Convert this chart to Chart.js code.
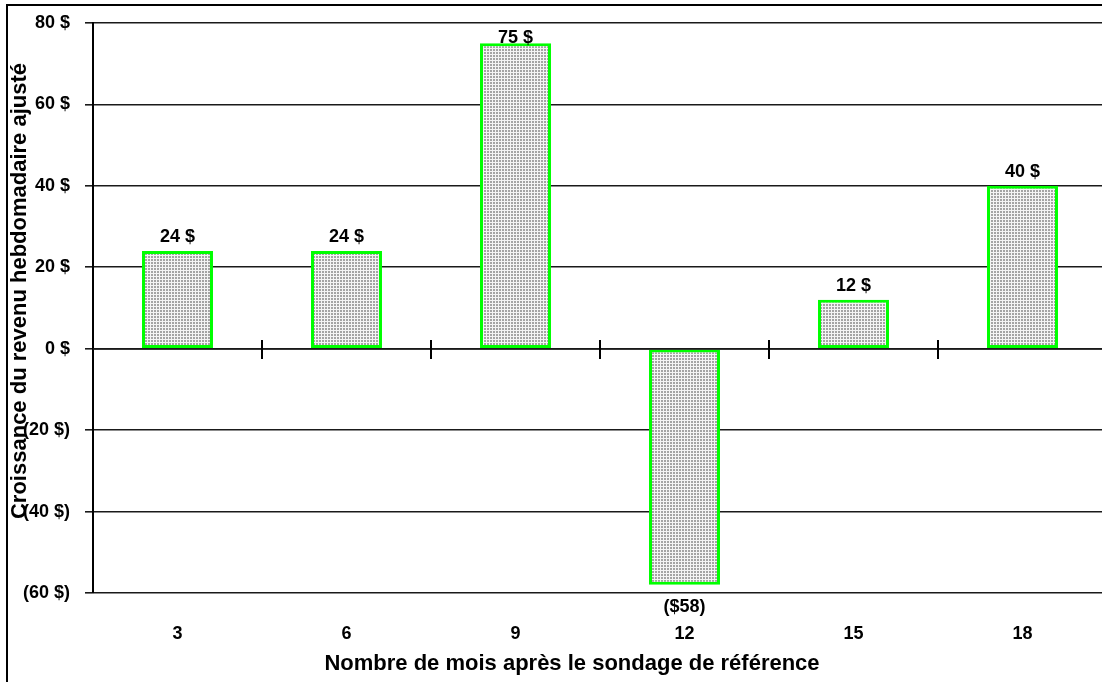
<!DOCTYPE html>
<html lang="fr">
<head>
<meta charset="utf-8">
<title>Croissance du revenu hebdomadaire ajusté</title>
<script src="https://cdn.jsdelivr.net/npm/chart.js@4.4.1/dist/chart.umd.min.js"></script>
<style>
  html, body { margin: 0; padding: 0; background: #fff; overflow: hidden; }
  #wrap { position: relative; width: 1102px; height: 682px; overflow: hidden; background: #fff; }
  #frame { position: absolute; left: 6px; top: 4px; width: 2000px; height: 2000px;
           border-left: 2px solid #000; border-top: 2px solid #000; box-sizing: border-box; }
  #chart { position: absolute; left: 0; top: 0; }
</style>
</head>
<body>
<div id="wrap">
  <canvas id="chart" width="1120" height="682"></canvas>
  <div id="frame"></div>
</div>
<script>
// Months after the reference survey
const months = ['3', '6', '9', '12', '15', '18'];
// Growth of adjusted weekly income, in dollars
const growth = [24, 24, 75, -58, 12, 40];
// Value axis
const yMin = -60;
const yMax = 80;
const yStep = 20;

const xTitle = 'Nombre de mois après le sondage de référence';
const yTitle = 'Croissance du revenu hebdomadaire ajusté';

const FONT_FAMILY = "Arial, 'Liberation Sans', sans-serif";

function fmtAxis(v) {
  return v < 0 ? '(' + (-v) + ' $)' : v + ' $';
}
function fmtLabel(v) {
  return v < 0 ? '($' + (-v) + ')' : v + ' $';
}

// Fine grey stipple used to fill the bars
function makeStipple() {
  const c = document.createElement('canvas');
  c.width = 3; c.height = 3;
  const g = c.getContext('2d');
  g.fillStyle = '#a4a4a4';
  g.fillRect(0, 0, 3, 3);
  g.fillStyle = '#f4f4f4';
  g.fillRect(0, 0, 3, 1);
  g.fillRect(0, 0, 1, 3);
  return g.createPattern(c, 'repeat');
}

// Zero line redrawn over the bars, with short marks between categories
const zeroLine = {
  id: 'zeroLine',
  afterDatasetsDraw(chart) {
    const { ctx, chartArea, scales: { x, y } } = chart;
    const y0 = Math.round(y.getPixelForValue(0));
    const half = (x.getPixelForValue(1) - x.getPixelForValue(0)) / 2;
    ctx.save();
    ctx.strokeStyle = '#1a1a1a';
    ctx.lineWidth = 1.6;
    ctx.beginPath();
    ctx.moveTo(chartArea.left, y0);
    ctx.lineTo(chartArea.right, y0);
    ctx.stroke();
    ctx.strokeStyle = '#000';
    ctx.lineWidth = 2;
    for (let i = 0; i < months.length - 1; i++) {
      const px = Math.round(x.getPixelForValue(i) + half);
      ctx.beginPath();
      ctx.moveTo(px, y0 - 9);
      ctx.lineTo(px, y0 + 10);
      ctx.stroke();
    }
    ctx.restore();
  }
};

// Value labels above positive bars and below negative ones
const valueLabels = {
  id: 'valueLabels',
  afterDatasetsDraw(chart) {
    const { ctx, chartArea } = chart;
    const meta = chart.getDatasetMeta(0);
    ctx.save();
    ctx.font = 'bold 18px ' + FONT_FAMILY;
    ctx.fillStyle = '#000';
    ctx.textAlign = 'center';
    ctx.textBaseline = 'middle';
    meta.data.forEach((bar, i) => {
      const v = growth[i];
      let ty;
      if (v >= 0) {
        ty = Math.max(bar.y - 14, chartArea.top + 15);
      } else {
        ty = bar.y + 22;
      }
      ctx.fillText(fmtLabel(v), bar.x, ty);
    });
    ctx.restore();
  }
};

// Axis titles
const axisTitles = {
  id: 'axisTitles',
  afterDraw(chart) {
    const { ctx } = chart;
    ctx.save();
    ctx.font = 'bold 22px ' + FONT_FAMILY;
    ctx.fillStyle = '#000';
    ctx.textAlign = 'center';
    ctx.textBaseline = 'middle';
    ctx.fillText(xTitle, 572, 664);
    ctx.translate(20, 291);
    ctx.rotate(-Math.PI / 2);
    ctx.fillText(yTitle, 0, 0);
    ctx.restore();
  }
};

new Chart(document.getElementById('chart'), {
  type: 'bar',
  data: {
    labels: months,
    datasets: [{
      data: growth,
      backgroundColor: makeStipple(),
      borderColor: '#00ff00',
      borderWidth: 3,
      borderSkipped: false,
      categoryPercentage: 1,
      barPercentage: 0.42
    }]
  },
  options: {
    responsive: false,
    animation: false,
    devicePixelRatio: 1,
    layout: { padding: { top: 23, right: 13, bottom: 0, left: 0 } },
    plugins: {
      legend: { display: false },
      tooltip: { enabled: false },
      title: { display: false }
    },
    scales: {
      x: {
        grid: { display: false, drawTicks: false },
        border: { display: false },
        ticks: {
          padding: 30,
          color: '#000',
          font: { family: FONT_FAMILY, size: 18, weight: 'bold' }
        },
        afterFit(scale) { scale.height = 89; }
      },
      y: {
        min: yMin,
        max: yMax,
        grid: { color: '#1a1a1a', lineWidth: 1.6, tickLength: 8, tickColor: '#1a1a1a' },
        border: { display: true, color: '#000', width: 2 },
        ticks: {
          stepSize: yStep,
          padding: 15,
          color: '#000',
          font: { family: FONT_FAMILY, size: 18, weight: 'bold' },
          callback: (v) => fmtAxis(v)
        },
        afterFit(scale) {
          scale.width = 93;
          scale.paddingTop = 0;
          scale.paddingBottom = 0;
        }
      }
    }
  },
  plugins: [zeroLine, valueLabels, axisTitles]
});
</script>
</body>
</html>
